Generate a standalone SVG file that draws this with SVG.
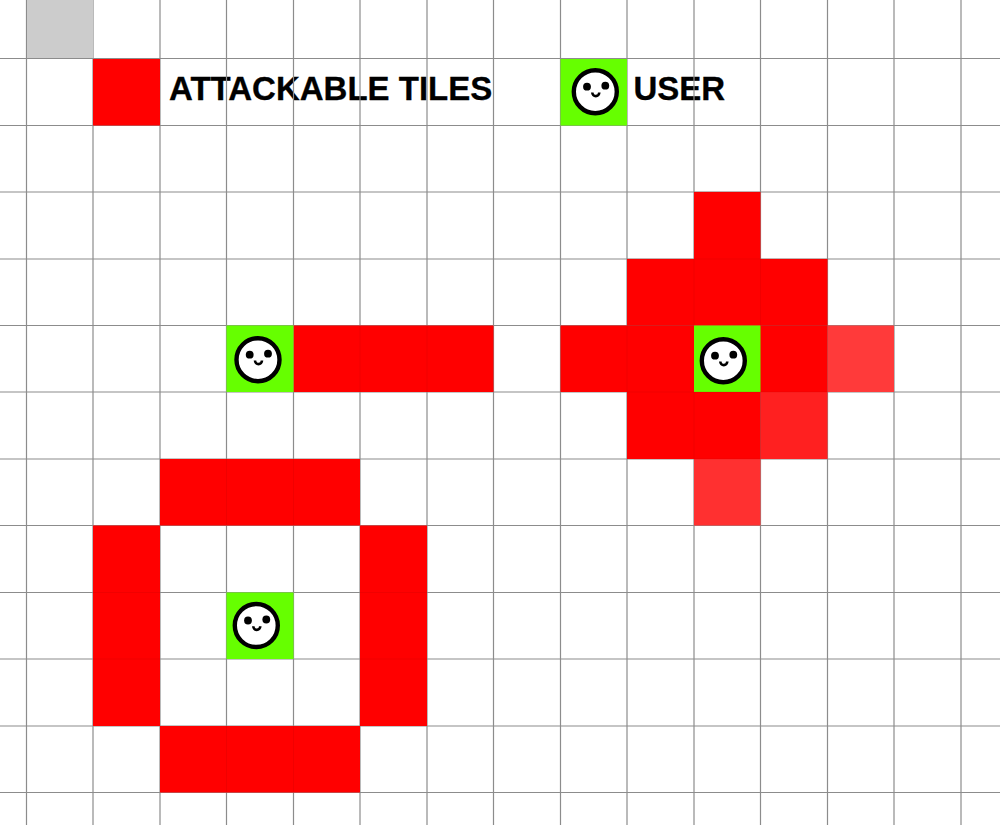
<svg xmlns="http://www.w3.org/2000/svg" width="1000" height="830" viewBox="0 0 1000 830">
<style>
.grid line{stroke:#8c8c8c;stroke-width:1.2}
.seams path{stroke:#b00000;stroke-opacity:.18;stroke-width:1;fill:none}
.r{fill:#ff0000}
.u{fill:#66ff00}
.lbl{font-family:"Liberation Sans",Arial,sans-serif;font-weight:700;font-size:33px;fill:#000;stroke:#000;stroke-width:.3}
</style>
<defs>
<g id="face">
<circle cx="0" cy="0" r="21.5" fill="#fff" stroke="#000" stroke-width="4.4"/>
<circle cx="-8.300" cy="-5" r="3.900" fill="#000"/>
<circle cx="10" cy="-6" r="3.900" fill="#000"/>
<path d="M-3 0.800a3.500 3.600 0 0 0 7 0" fill="none" stroke="#000" stroke-width="2.600"/>
</g>
</defs>
<rect width="1000" height="830" fill="#fff"/>
<g id="legend-labels">
<text class="lbl" x="169" y="99.500">ATTACKABLE TILES</text>
<text class="lbl" x="633.500" y="99.500">USER</text>
</g>
<g class="grid">
<line x1="26.5" y1="0" x2="26.5" y2="825"/><line x1="93" y1="0" x2="93" y2="825"/><line x1="160" y1="0" x2="160" y2="825"/><line x1="226.500" y1="0" x2="226.500" y2="825"/><line x1="293.500" y1="0" x2="293.500" y2="825"/><line x1="360" y1="0" x2="360" y2="825"/><line x1="427" y1="0" x2="427" y2="825"/><line x1="493.500" y1="0" x2="493.500" y2="825"/><line x1="560.500" y1="0" x2="560.500" y2="825"/><line x1="627" y1="0" x2="627" y2="825"/><line x1="694" y1="0" x2="694" y2="825"/><line x1="760.500" y1="0" x2="760.500" y2="825"/><line x1="827.500" y1="0" x2="827.500" y2="825"/><line x1="894" y1="0" x2="894" y2="825"/><line x1="961" y1="0" x2="961" y2="825"/>
<line x1="0" y1="58.500" x2="1000" y2="58.500"/><line x1="0" y1="125.500" x2="1000" y2="125.500"/><line x1="0" y1="192" x2="1000" y2="192"/><line x1="0" y1="259" x2="1000" y2="259"/><line x1="0" y1="325.500" x2="1000" y2="325.500"/><line x1="0" y1="392" x2="1000" y2="392"/><line x1="0" y1="459" x2="1000" y2="459"/><line x1="0" y1="525.500" x2="1000" y2="525.500"/><line x1="0" y1="592.500" x2="1000" y2="592.500"/><line x1="0" y1="659" x2="1000" y2="659"/><line x1="0" y1="726" x2="1000" y2="726"/><line x1="0" y1="792.500" x2="1000" y2="792.500"/>
</g>
<rect x="27" y="0" width="66" height="58" fill="#cccccc"/>
<g id="legend">
<rect class="r" x="93" y="59" width="67" height="66.500"/>
<rect class="u" x="560.500" y="59" width="66.500" height="66.500"/>
<use href="#face" x="595.300" y="91.700"/>
</g>
<g id="line-pattern">
<rect class="r" x="293.500" y="325.500" width="200" height="66.500"/>
<rect class="u" x="226.500" y="325.500" width="67" height="66.500"/>
<use href="#face" x="258" y="359.700"/>
</g>
<g id="diamond-pattern">
<rect class="r" x="694" y="192" width="66.500" height="67"/>
<rect class="r" x="627" y="259" width="200.500" height="66.500"/>
<rect class="r" x="560.500" y="325.500" width="267" height="66.500"/>
<rect x="827.500" y="325.500" width="66.500" height="66.500" fill="#ff3a3a"/>
<rect class="r" x="627" y="392" width="133.500" height="67"/>
<rect x="760.500" y="392" width="67" height="67" fill="#ff2020"/>
<rect x="694" y="459" width="66.500" height="66.500" fill="#ff3030"/>
<rect class="u" x="694" y="325.500" width="66.500" height="66.500"/>
<use href="#face" x="723.300" y="360.700"/>
</g>
<g id="ring-pattern">
<rect class="r" x="160" y="459" width="200" height="66.500"/>
<rect class="r" x="93" y="525.500" width="67" height="200.500"/>
<rect class="r" x="360" y="525.500" width="67" height="200.500"/>
<rect class="r" x="160" y="726" width="200" height="66.500"/>
<rect class="u" x="226.500" y="592.500" width="67" height="66.500"/>
<use href="#face" x="256.300" y="625.500"/>
</g>
<g class="seams">
<path d="M360 325.500V392M427 325.500V392"/>
<path d="M694 259V325.500M760.500 259V325.500M627 325.500V392M694 192H760.500M627 259H827.500M627 325.500H694M760.500 325.500H827.500M827.500 325.500V392M627 392H694M694 392H827.500M694 392V459M760.500 392V459M694 459H760.500"/>
<path d="M226.500 459V525.500M293.500 459V525.500M93 592.500H160M93 659H160M360 592.500H427M360 659H427M226.500 726V792.500M293.500 726V792.500"/>
</g>
</svg>
